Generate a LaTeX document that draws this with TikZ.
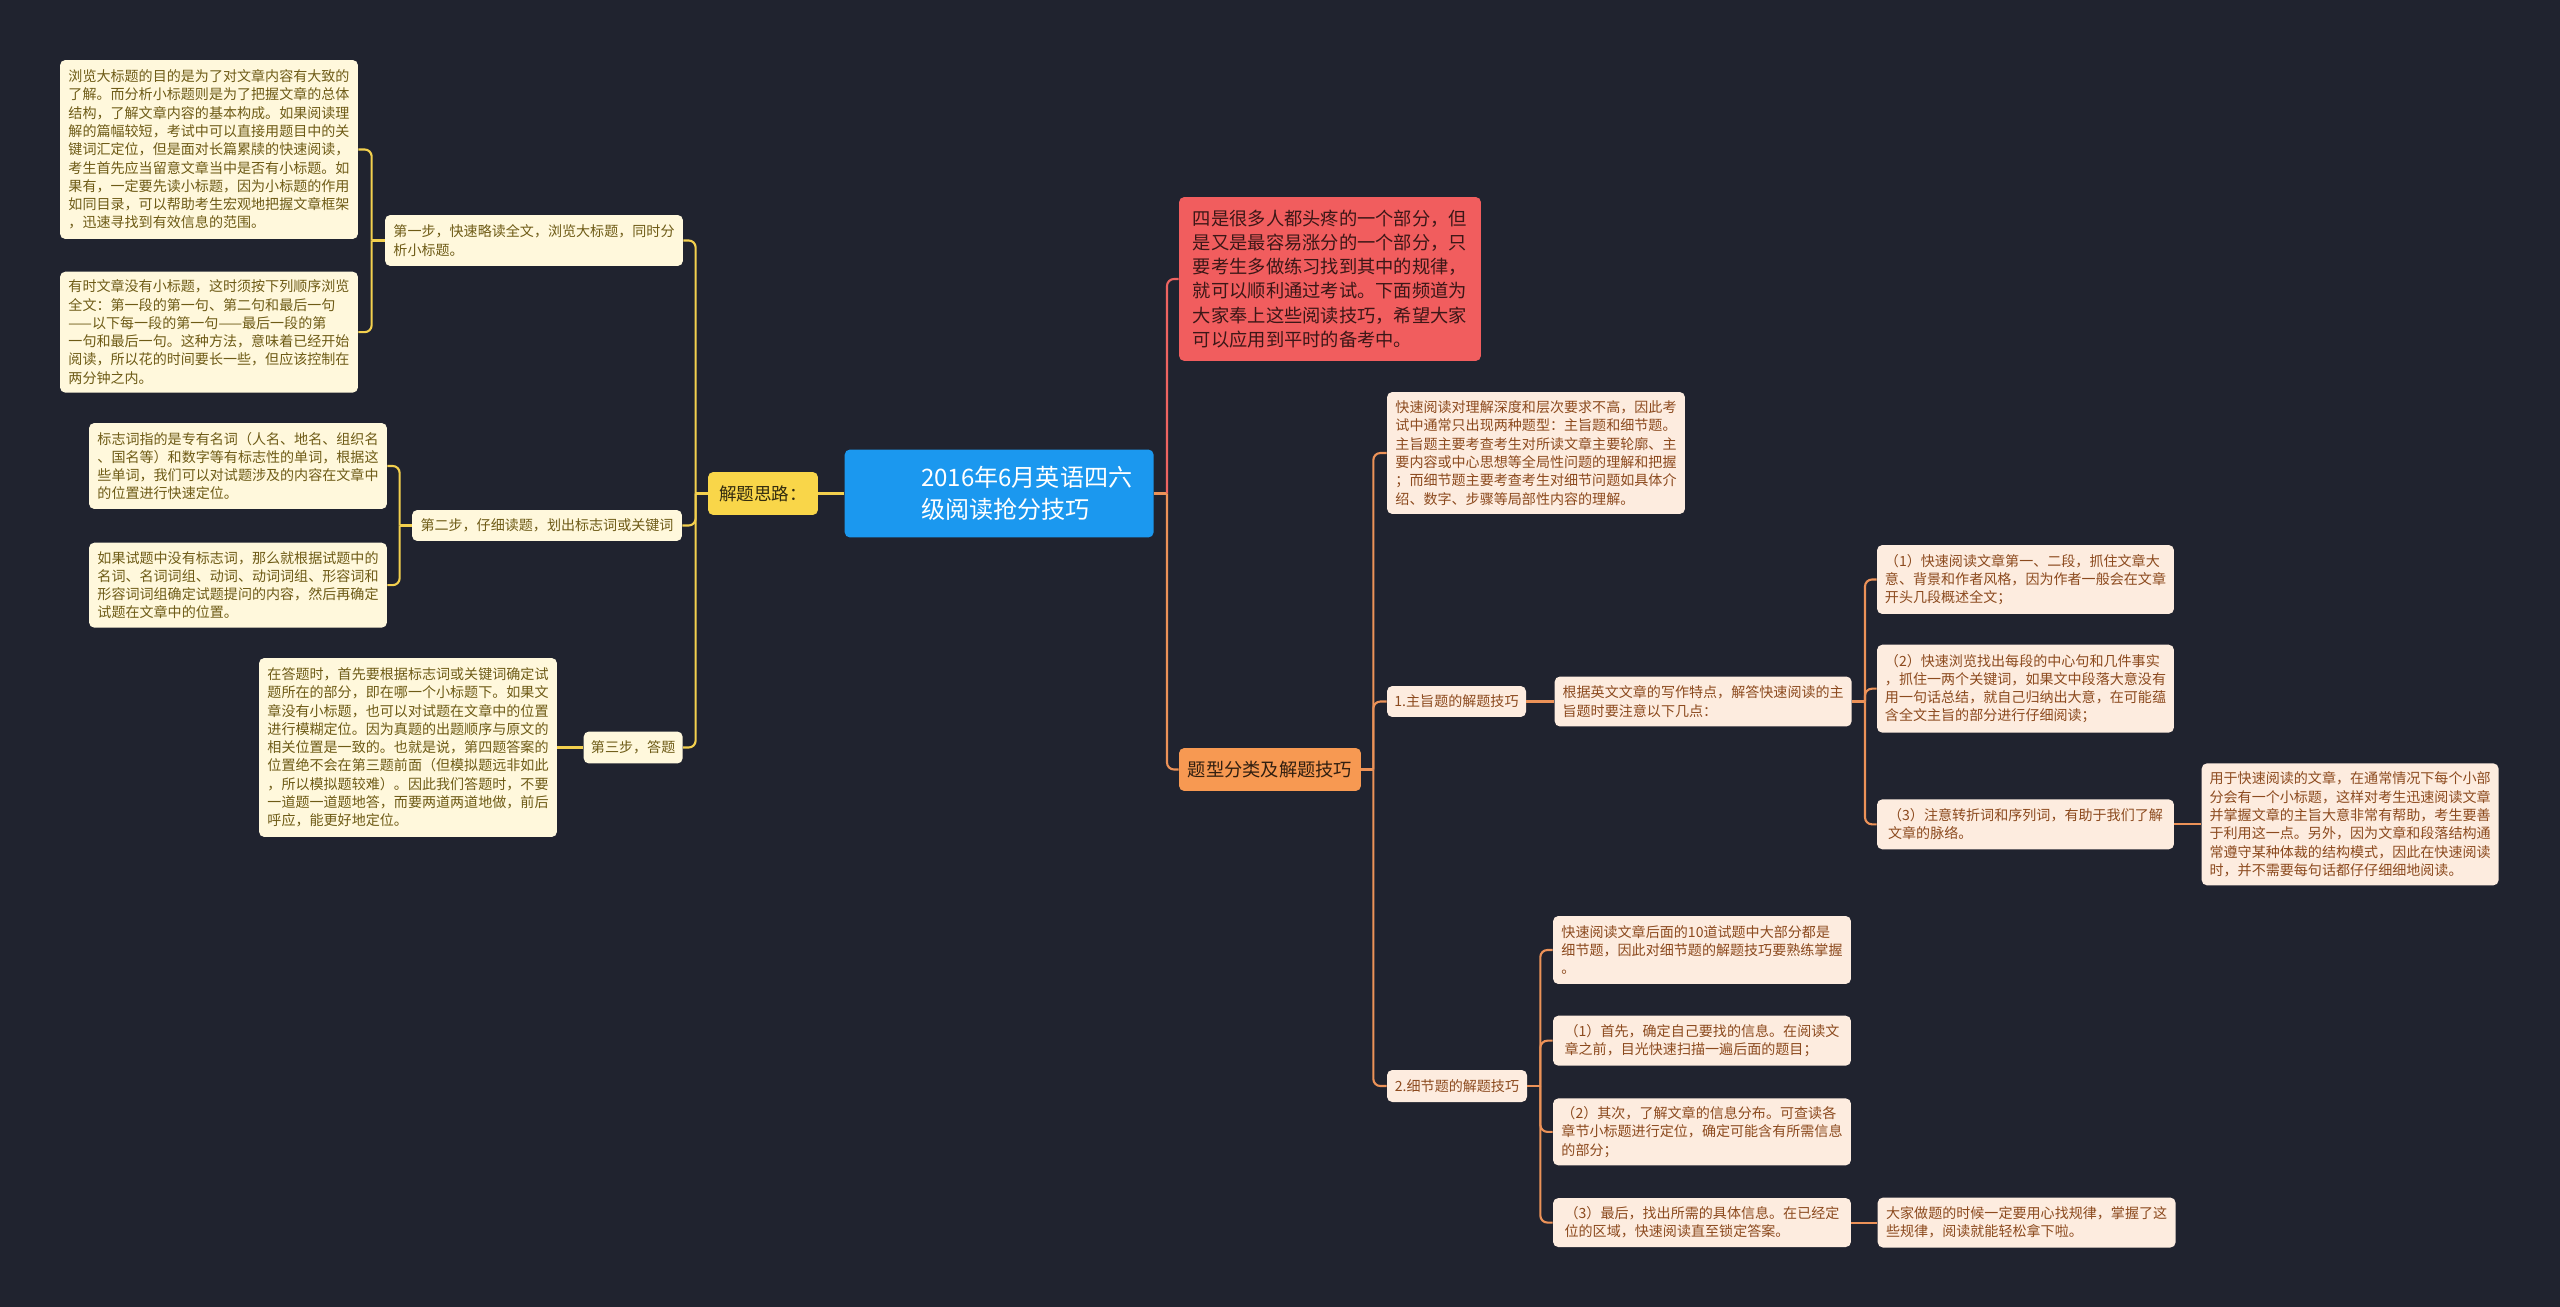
\documentclass[tikz,border=0pt]{standalone}
\usepackage{fontspec}
\setmainfont{Noto Sans CJK SC}
\usepackage{tikz}
\usetikzlibrary{positioning}
\usepackage{xcolor}

\definecolor{bgdark}{HTML}{20232F}
\definecolor{rootblue}{HTML}{1B98EF}
\definecolor{introred}{HTML}{F15D5E}
\definecolor{catorange}{HTML}{F79952}
\definecolor{jtyellow}{HTML}{F9D649}
\definecolor{leafyfill}{HTML}{FFF8DC}
\definecolor{leafytext}{HTML}{6E5B16}
\definecolor{leafofill}{HTML}{FDECDF}
\definecolor{leafotext}{HTML}{8C4A1E}
\definecolor{ylinkc}{HTML}{F3D04E}
\definecolor{olinkc}{HTML}{EC9258}
\definecolor{rlinkc}{HTML}{EE6461}

\begin{document}
\begin{tikzpicture}[
    x=0.02cm, y=-0.02cm,
    title/.style={rectangle, fill=rootblue, rounded corners=3pt, text=white, align=left, inner sep=2pt, font=\fontsize{13.7}{18.2}\selectfont},
    intro/.style={rectangle, fill=introred, rounded corners=3pt, text=black!75!introred, align=left, inner sep=2pt, font=\fontsize{10.4}{13.7}\selectfont},
    cat/.style={rectangle, fill=catorange, rounded corners=3pt, text=black!80!catorange, align=center, inner sep=2pt, minimum height=0.86cm, font=\fontsize{10.4}{13.7}\selectfont},
    sub/.style={rectangle, fill=jtyellow, rounded corners=3pt, text=black!80!jtyellow, align=center, inner sep=2pt, minimum height=0.86cm, font=\fontsize{10}{13}\selectfont},
    leafy/.style={rectangle, fill=leafyfill, text=leafytext, rounded corners=3pt, minimum width=5.96cm, align=left, inner sep=2pt, font=\fontsize{8}{10.4}\selectfont},
    leafo/.style={rectangle, fill=leafofill, text=leafotext, rounded corners=3pt, minimum width=5.96cm, align=left, inner sep=2pt, font=\fontsize{8}{10.4}\selectfont},
    ylink/.style={draw=ylinkc, line width=1.2pt, rounded corners=4pt},
    olink/.style={draw=olinkc, line width=1.2pt, rounded corners=4pt},
    rlink/.style={draw=rlinkc, line width=1.2pt, rounded corners=4pt}
]

\fill[bgdark] (0,0) rectangle (2560,1307);

% Nodes
\node[sub, minimum width=2.2cm] (jt) at (763,493.5) {解题思路：};
\node[title, minimum width=6.18cm, minimum height=1.76cm, right=0.52cm of jt] (title) {\hspace*{1.1cm}2016年6月英语四六\\\hspace*{1.1cm}级阅读抢分技巧};

\node[leafy, minimum width=5.96cm, minimum height=1.02cm] (s1) at (534,240.5) {第一步，快速略读全文，浏览大标题，同时分\\析小标题。};
\node[leafy, minimum width=5.40cm, minimum height=0.62cm] (s2) at (547,525.5) {第二步，仔细读题，划出标志词或关键词};

\node[leafy, minimum height=3.58cm] (l1) at (209,149.5) {浏览大标题的目的是为了对文章内容有大致的\\了解。而分析小标题则是为了把握文章的总体\\结构，了解文章内容的基本构成。如果阅读理\\解的篇幅较短，考试中可以直接用题目中的关\\键词汇定位，但是面对长篇累牍的快速阅读，\\考生首先应当留意文章当中是否有小标题。如\\果有，一定要先读小标题，因为小标题的作用\\如同目录，可以帮助考生宏观地把握文章框架\\，迅速寻找到有效信息的范围。};
\node[leafy, minimum height=2.42cm, below=0.64cm of l1] (l2) {有时文章没有小标题，这时须按下列顺序浏览\\全文：第一段的第一句、第二句和最后一句\\——以下每一段的第一句——最后一段的第\\一句和最后一句。这种方法，意味着已经开始\\阅读，所以花的时间要长一些，但应该控制在\\两分钟之内。};

\node[leafy, minimum height=1.72cm] (l3) at (238,466) {标志词指的是专有名词（人名、地名、组织名\\、国名等）和数字等有标志性的单词，根据这\\些单词，我们可以对试题涉及的内容在文章中\\的位置进行快速定位。};
\node[leafy, minimum height=1.70cm, below=0.66cm of l3] (l4) {如果试题中没有标志词，那么就根据试题中的\\名词、名词词组、动词、动词词组、形容词和\\形容词词组确定试题提问的内容，然后再确定\\试题在文章中的位置。};

\node[leafy, minimum height=3.58cm] (l5) at (408,747.5) {在答题时，首先要根据标志词或关键词确定试\\题所在的部分，即在哪一个小标题下。如果文\\章没有小标题，也可以对试题在文章中的位置\\进行模糊定位。因为真题的出题顺序与原文的\\相关位置是一致的。也就是说，第四题答案的\\位置绝不会在第三题前面（但模拟题远非如此\\，所以模拟题较难）。因此我们答题时，不要\\一道题一道题地答，而要两道两道地做，前后\\呼应，能更好地定位。};
\node[leafy, minimum width=1.98cm, minimum height=0.64cm, right=0.52cm of l5] (s3) {第三步，答题};

\node[intro, minimum width=6.04cm, minimum height=3.28cm] (intro) at (1330,279) {四是很多人都头疼的一个部分，但\\是又是最容易涨分的一个部分，只\\要考生多做练习找到其中的规律，\\就可以顺利通过考试。下面频道为\\大家奉上这些阅读技巧，希望大家\\可以应用到平时的备考中。};
\node[cat, minimum width=3.64cm] (tx) at (1270,769.5) {题型分类及解题技巧};

\node[leafo, minimum height=2.44cm] (q0) at (1536,453) {快速阅读对理解深度和层次要求不高，因此考\\试中通常只出现两种题型：主旨题和细节题。\\主旨题主要考查考生对所读文章主要轮廓、主\\要内容或中心思想等全局性问题的理解和把握\\；而细节题主要考查考生对细节问题如具体介\\绍、数字、步骤等局部性内容的理解。};
\node[leafo, minimum width=2.78cm, minimum height=0.62cm] (q1) at (1456.5,701.5) {1.主旨题的解题技巧};
\node[leafo, minimum width=5.94cm, minimum height=1.00cm, right=0.56cm of q1] (q1a) {根据英文文章的写作特点，解答快速阅读的主\\旨题时要注意以下几点：};

\node[leafo, minimum width=5.94cm, minimum height=1.38cm] (m1) at (2025.5,579.5) {（1）快速阅读文章第一、二段，抓住文章大\\意、背景和作者风格，因为作者一般会在文章\\开头几段概述全文；};
\node[leafo, minimum width=5.94cm, minimum height=1.76cm, below=0.6cm of m1] (m2) {（2）快速浏览找出每段的中心句和几件事实\\，抓住一两个关键词，如果文中段落大意没有\\用一句话总结，就自己归纳出大意，在可能蕴\\含全文主旨的部分进行仔细阅读；};
\node[leafo, minimum width=5.94cm, minimum height=1.00cm, below=1.32cm of m2] (m3) {（3）注意转折词和序列词，有助于我们了解\\文章的脉络。};
\node[leafo, minimum width=5.94cm, minimum height=2.44cm, right=0.54cm of m3] (m3a) {用于快速阅读的文章，在通常情况下每个小部\\分会有一个小标题，这样对考生迅速阅读文章\\并掌握文章的主旨大意非常有帮助，考生要善\\于利用这一点。另外，因为文章和段落结构通\\常遵守某种体裁的结构模式，因此在快速阅读\\时，并不需要每句话都仔仔细细地阅读。};

\node[leafo, minimum width=2.80cm, minimum height=0.64cm] (q2) at (1457,1086) {2.细节题的解题技巧};
\node[leafo, minimum height=1.36cm] (d0) at (1702,950) {快速阅读文章后面的10道试题中大部分都是\\细节题，因此对细节题的解题技巧要熟练掌握\\。};
\node[leafo, minimum height=1.00cm, below=0.62cm of d0] (d1) {（1）首先，确定自己要找的信息。在阅读文\\章之前，目光快速扫描一遍后面的题目；};
\node[leafo, minimum height=1.34cm, below=0.64cm of d1] (d2) {（2）其次，了解文章的信息分布。可查读各\\章节小标题进行定位，确定可能含有所需信息\\的部分；};
\node[leafo, minimum height=0.98cm, below=0.64cm of d2] (d3) {（3）最后，找出所需的具体信息。在已经定\\位的区域，快速阅读直至锁定答案。};
\node[leafo, minimum height=1.00cm, right=0.52cm of d3] (d3a) {大家做题的时候一定要用心找规律，掌握了这\\些规律，阅读就能轻松拿下啦。};

% Connectors
\draw[ylink] (title.west) -- (jt.east);
\draw[ylink] (jt.west) -- ++(-12,0) coordinate (jtk);
\draw[ylink] (jtk) |- (s1.east);
\draw[ylink] (jtk) |- (s2.east);
\draw[ylink] (jtk) |- (s3.east);

\draw[ylink] (s1.west) -- ++(-13,0) coordinate (s1k);
\draw[ylink] (s1k) |- (l1.east);
\draw[ylink] (s1k) |- (l2.east);
\draw[ylink] (s2.west) -- ++(-12,0) coordinate (s2k);
\draw[ylink] (s2k) |- (l3.east);
\draw[ylink] (s2k) |- (l4.east);
\draw[ylink] (s3.west) -- (l5.east);

\draw[olink] (title.east) -- ++(13,0) coordinate (tk);
\draw[rlink] (tk) |- (intro.west);
\draw[olink] (tk) |- (tx.west);

\draw[olink] (tx.east) -- ++(12,0) coordinate (txk);
\draw[olink] (txk) |- (q0.west);
\draw[olink] (txk) |- (q1.west);
\draw[olink] (txk) |- (q2.west);

\draw[olink] (q1.east) -- (q1a.west);
\draw[olink] (q1a.east) -- ++(13,0) coordinate (q1k);
\draw[olink] (q1k) |- (m1.west);
\draw[olink] (q1k) |- (m2.west);
\draw[olink] (q1k) |- (m3.west);
\draw[olink] (m3.east) -- (m3a.west);

\draw[olink] (q2.east) -- ++(13,0) coordinate (q2k);
\draw[olink] (q2k) |- (d0.west);
\draw[olink] (q2k) |- (d1.west);
\draw[olink] (q2k) |- (d2.west);
\draw[olink] (q2k) |- (d3.west);
\draw[olink] (d3.east) -- (d3a.west);

\end{tikzpicture}
\end{document}
